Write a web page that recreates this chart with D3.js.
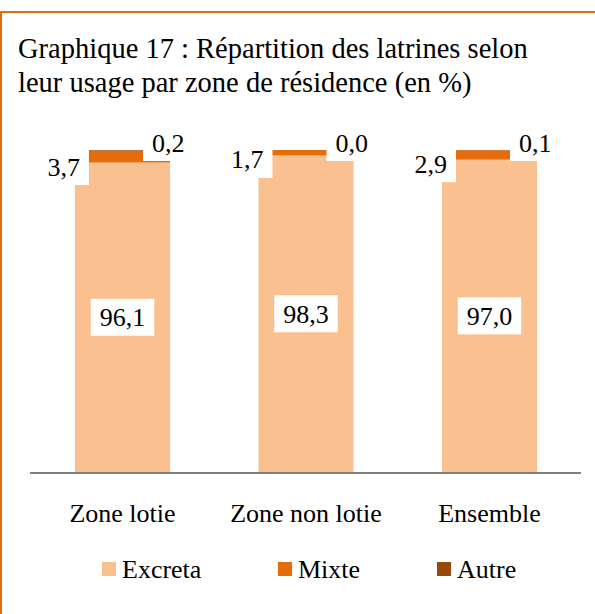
<!DOCTYPE html>
<html>
<head>
<meta charset="utf-8">
<script src="https://cdn.jsdelivr.net/npm/d3@7"></script>
<style>
  body { margin: 0; background: #fff; }
</style>
</head>
<body>
<div id="chart"></div>
<script>
var categories = ["Zone lotie", "Zone non lotie", "Ensemble"];
var excreta = [96.1, 98.3, 97.0];
var mixte = [3.7, 1.7, 2.9];
var autre = [0.2, 0.0, 0.1];
var series_names = ["Excreta", "Mixte", "Autre"];
var series_colors = ["#fac090", "#e46c0a", "#984807"];

var width = 595, height = 614;
var font = "'Liberation Serif', 'Times New Roman', Times, 'DejaVu Serif', serif";
var fmt = function(v) { return d3.format(".1f")(v).replace(".", ","); };

var svg = d3.select("#chart").append("svg")
    .attr("width", width)
    .attr("height", height)
    .attr("font-family", font)
    .style("font-family", font);

// frame (top and left orange lines)
svg.append("line").attr("x1", 0).attr("x2", width).attr("y1", 12).attr("y2", 12)
    .attr("stroke", "#e46c0a").attr("stroke-width", 2);
svg.append("line").attr("x1", 1).attr("x2", 1).attr("y1", 11).attr("y2", height)
    .attr("stroke", "#e46c0a").attr("stroke-width", 2);

// title
var title = svg.append("text").attr("x", 18).attr("y", 58)
    .style("font-family", font).style("font-size", "28.5px");
title.append("tspan").attr("x", 18).text("Graphique 17 : Répartition des latrines selon");
title.append("tspan").attr("x", 18).attr("dy", 34).text("leur usage par zone de résidence (en %)");

var rows = categories.map(function(c, i) {
  return {cat: c, Excreta: excreta[i], Mixte: mixte[i], Autre: autre[i]};
});
var stacked = d3.stack().keys(series_names)(rows);

var x = d3.scaleBand().domain(categories).range([30.75, 581.25])
    .paddingInner(0.482).paddingOuter(0.241);
var y = d3.scaleLinear().domain([0, 100]).range([472, 150]);
var color = d3.scaleOrdinal().domain(series_names).range(series_colors);

var g = svg.append("g");
stacked.forEach(function(s) {
  g.selectAll(".bar-" + s.key)
    .data(s)
    .enter().append("rect")
      .attr("x", function(d) { return x(d.data.cat); })
      .attr("width", x.bandwidth())
      .attr("y", function(d) { return y(d[1]); })
      .attr("height", function(d) { return y(d[0]) - y(d[1]); })
      .attr("fill", color(s.key));
});

// axis line
svg.append("line").attr("x1", 30).attr("x2", 581).attr("y1", 473).attr("y2", 473)
    .attr("stroke", "#808080").attr("stroke-width", 2);

// category labels
svg.selectAll(".cat")
  .data(categories)
  .enter().append("text")
    .attr("x", function(d) { return x(d) + x.bandwidth() / 2; })
    .attr("y", 522)
    .attr("text-anchor", "middle")
    .style("font-family", font)
    .style("font-size", "26px")
    .text(function(d) { return d; });

// labels with white boxes
function boxed_label(cx, cy, txt, anchor) {
  var t = svg.append("text").style("font-family", font).style("font-size", "26px").text(txt);
  var w = t.node().getComputedTextLength();
  var bw = w + 18, bh = 37;
  var left;
  if (anchor === "end") left = cx - bw;
  else if (anchor === "start") left = cx;
  else left = cx - bw / 2;
  svg.insert("rect", function() { return t.node(); })
    .attr("x", left).attr("y", cy - bh / 2)
    .attr("width", bw).attr("height", bh)
    .attr("fill", "#fff");
  t.attr("x", left + 9).attr("y", cy + 9);
}

stacked[0].forEach(function(d, i) {
  var cx = x(d.data.cat) + x.bandwidth() / 2;
  boxed_label(cx, (y(d[0]) + y(d[1])) / 2, fmt(excreta[i]), "middle");
});
stacked[1].forEach(function(d, i) {
  var bx = x(d.data.cat);
  boxed_label(bx + 14, y(d[0]) + 4, fmt(mixte[i]), "end");
});
stacked[2].forEach(function(d, i) {
  var bx = x(d.data.cat) + x.bandwidth();
  boxed_label(bx - 27, y(100) - 7.5, fmt(autre[i]), "start");
});

// legend
var legend_x = [102, 278, 437];
var lg = svg.selectAll(".legend")
  .data(series_names)
  .enter().append("g")
    .attr("transform", function(d, i) { return "translate(" + legend_x[i] + ",562)"; });
lg.append("rect").attr("width", 14).attr("height", 14)
    .attr("fill", function(d) { return color(d); });
lg.append("text").attr("x", 20).attr("y", 16)
    .style("font-family", font)
    .style("font-size", "26px")
    .text(function(d) { return d; });
</script>
</body>
</html>
